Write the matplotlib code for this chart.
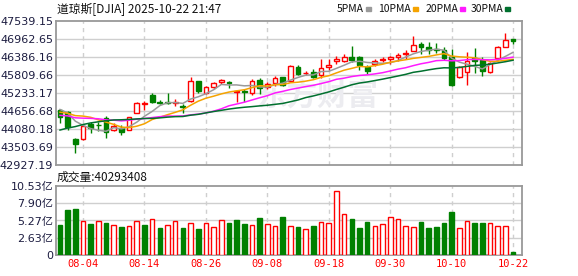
import numpy as np
import pandas as pd
import matplotlib
matplotlib.use("Agg")
import matplotlib.pyplot as plt
from matplotlib.patches import Rectangle

# 日期 (07-30 .. 10-22)
dates = ["07-30", "07-31", "08-01", "08-04", "08-05", "08-06", "08-07", "08-08",
         "08-11", "08-12", "08-13", "08-14", "08-15", "08-18", "08-19", "08-20",
         "08-21", "08-22", "08-25", "08-26", "08-27", "08-28", "08-29", "09-02",
         "09-03", "09-04", "09-05", "09-08", "09-09", "09-10", "09-11", "09-12",
         "09-15", "09-16", "09-17", "09-18", "09-19", "09-22", "09-23", "09-24",
         "09-25", "09-26", "09-29", "09-30", "10-01", "10-02", "10-03", "10-06",
         "10-07", "10-08", "10-09", "10-10", "10-13", "10-14", "10-15", "10-16",
         "10-17", "10-20", "10-21", "10-22"]

# closes before the window (needed for the moving averages)
prior_close = [42215, 42172, 42207, 42582, 43089, 42982, 43387, 43819, 44095,
               44495, 44485, 44829, 44406, 44241, 44458, 44651, 44372, 44460,
               44023, 44254, 44484, 44342, 44323, 44502, 45010, 44694, 44902,
               44838, 44633]

open_ = [44688, 44634, 43760, 43750, 44230, 44215, 44422, 44048, 44122, 44048,
         44583, 44890, 45180, 44960, 44960, 44910, 44810, 44977, 45617, 45243,
         45435, 45590, 45580, 45270, 45306, 45223, 45650, 45435, 45563, 45735,
         45617, 46075, 45860, 45915, 45810, 46075, 46258, 46258, 46376, 46376,
         46075, 46152, 46290, 46312, 46396, 46470, 46587, 46802, 46695, 46640,
         46600, 46386, 45735, 45895, 46344, 46290, 45896, 46344, 46716, 46953]
high = [44730, 44666, 43790, 44190, 44314, 44293, 44496, 44262, 44208, 44474,
        44955, 44976, 45223, 45010, 45223, 45031, 44880, 45735, 45630, 45467,
        45596, 45681, 45627, 45330, 45350, 45681, 45723, 45580, 45778, 45756,
        46130, 46130, 45940, 45992, 46312, 46312, 46427, 46473, 46738, 46418,
        46130, 46322, 46396, 46420, 46504, 46610, 47059, 46876, 46857, 46825,
        46716, 46640, 46100, 46537, 46670, 46396, 46230, 46748, 47145, 46970]
low = [44262, 44048, 43321, 43740, 43942, 44016, 43801, 44016, 43888, 44040,
       44580, 44688, 44903, 44880, 44871, 44816, 44583, 44950, 45243, 45200,
       45360, 45510, 45403, 44955, 44955, 45170, 45200, 45360, 45457, 45460,
       45600, 45810, 45810, 45704, 45704, 45970, 46150, 46218, 46218, 45970,
       45830, 46107, 46218, 46152, 46258, 46312, 46570, 46472, 46472, 46504,
       46300, 45457, 45700, 45480, 45865, 45787, 45880, 46300, 46700, 46800]
close = [44461, 44131, 43589, 44174, 44112, 44193, 43969, 44176, 43975, 44459,
         44922, 44911, 44946, 44912, 44922, 44938, 44785, 45632, 45282, 45418,
         45565, 45637, 45545, 45296, 45271, 45621, 45401, 45515, 45711, 45490,
         46108, 45834, 45883, 45758, 46018, 46142, 46315, 46381, 46292, 46121,
         45947, 46247, 46316, 46398, 46441, 46520, 46758, 46695, 46603, 46602,
         46358, 45480, 46068, 46270, 46253, 45952, 46191, 46707, 46925, 46908]

# 成交量 (亿)
volume = [4.58, 6.87, 7.02, 5.19, 4.73, 5.19, 4.93, 4.58, 4.32, 4.43,
          5.19, 4.58, 5.45, 4.17, 4.58, 5.19, 4.17, 4.83, 3.97, 4.83,
          4.27, 5.29, 4.93, 5.34, 4.78, 4.58, 5.65, 4.73, 4.43, 5.80,
          4.43, 4.27, 3.97, 4.43, 5.04, 4.88, 9.77, 6.26, 5.49, 4.12,
          5.04, 4.43, 4.73, 5.80, 5.49, 4.43, 4.27, 5.04, 4.12, 4.27,
          4.88, 6.56, 4.12, 5.19, 4.88, 4.88, 4.88, 4.43, 4.43, 0.40]
last_volume = 40293408

price_ticks = [42927.19, 43503.69, 44080.18, 44656.68, 45233.17,
               45809.66, 46386.16, 46962.65, 47539.15]
vol_ticks = [0, 2.63, 5.27, 7.90, 10.53]
vol_labels = ["0", "2.63亿", "5.27亿", "7.90亿", "10.53亿"]
tick_dates = ["08-04", "08-14", "08-26", "09-08", "09-18", "09-30", "10-10", "10-22"]

ma_periods = [5, 10, 20, 30]
ma_names = ["5PMA", "10PMA", "20PMA", "30PMA"]
ma_colors = ["#9a9a9a", "#f5a300", "#ff1aff", "#00702e"]

RED = "#ff0000"
GREEN = "#008000"
GRID = "#cfcfcf"
FRAME = "#999999"
CJK = ["Noto Sans CJK SC", "DejaVu Sans"]
NUM = ["DejaVu Sans", "Noto Sans CJK SC"]

W, H = 578, 276
fig = plt.figure(figsize=(W / 100, H / 100), dpi=100)
ax = fig.add_axes([56 / W, 1 - 165 / H, 466 / W, 144 / H])
axv = fig.add_axes([56 / W, 1 - 255 / H, 466 / W, 69 / H])

x = np.arange(len(close))
o = np.array(open_, float)
c = np.array(close, float)
up = c > o
cols = [RED if u else GREEN for u in up]

# moving averages
full = pd.Series(prior_close + close, dtype=float)
n0 = len(prior_close)
for p, col in zip(ma_periods, ma_colors):
    ma = full.rolling(p).mean().values[n0:]
    ax.plot(x, ma, color=col, lw=1.1, zorder=4)

# candles
ax.vlines(x, low, high, colors=cols, lw=1, zorder=2)
bottom = np.minimum(o, c)
height = np.maximum(np.abs(c - o), 18)
ax.bar(x, height, bottom=bottom, width=0.62,
       facecolor=["white" if u else GREEN for u in up],
       edgecolor=cols, lw=1, zorder=3)

# volume: colour from close vs previous close
prev = np.r_[prior_close[-1], c[:-1]]
vup = c > prev
vcols = [RED if u else GREEN for u in vup]
axv.bar(x, volume, width=0.6, facecolor=["white" if u else GREEN for u in vup],
        edgecolor=vcols, lw=1, zorder=3)

tick_idx = [dates.index(d) for d in tick_dates]

for a in (ax, axv):
    a.set_xlim(-0.52, 60.16)
    for t in tick_idx:
        a.axvline(t, color=GRID, lw=1, ls=(0, (3, 3)), zorder=0)
    for s in a.spines.values():
        s.set_color(FRAME)
        s.set_linewidth(1.3)
    a.tick_params(length=0)

ax.set_ylim(price_ticks[0], price_ticks[-1])
for t in price_ticks[1:-1]:
    ax.axhline(t, color=GRID, lw=1, zorder=0)
ax.set_yticks(price_ticks)
ax.set_yticklabels(["%.2f" % t for t in price_ticks], fontsize=8,
                   color="#1c1c40", family=NUM)
ax.tick_params(axis="y", pad=2)
ax.set_xticks([])

axv.set_ylim(0, vol_ticks[-1])
for t in vol_ticks[1:-1]:
    axv.axhline(t, color=GRID, lw=1, zorder=0)
axv.set_yticks(vol_ticks)
axv.set_yticklabels(vol_labels, fontsize=8, color="#1c1c40", family=NUM)
axv.tick_params(axis="y", pad=2)
axv.set_xticks(tick_idx)
axv.set_xticklabels(tick_dates, fontsize=7.5, color=RED, family="DejaVu Sans Mono")
axv.tick_params(axis="x", pad=3)

# watermark
ax.text(33.5, 45150, "东方财富", fontsize=22, color="#ececf0", family=CJK,
        fontweight="bold", ha="center", va="center", zorder=1)

# header
fig.text(57 / W, 1 - 9 / H, "道琼斯[DJIA] 2025-10-22 21:47", fontsize=8.5,
         family=CJK, va="center", color="#111111")
fig.text(57 / W, 1 - 177 / H, "成交量:%d" % last_volume, fontsize=8.5,
         family=CJK, va="center", color="#111111")

# legend: text ends just left of a small colour swatch
swatch_x = [366, 413, 460, 505]
for sx, name, col in zip(swatch_x, ma_names, ma_colors):
    fig.text((sx - 2) / W, 1 - 9 / H, name, fontsize=7.5, family=CJK,
             ha="right", va="center", color="#111111")
    fig.patches.append(Rectangle((sx / W, 1 - 10.5 / H), 5 / W, 3 / H,
                                 transform=fig.transFigure, color=col))

fig.savefig("out.png", dpi=100)
